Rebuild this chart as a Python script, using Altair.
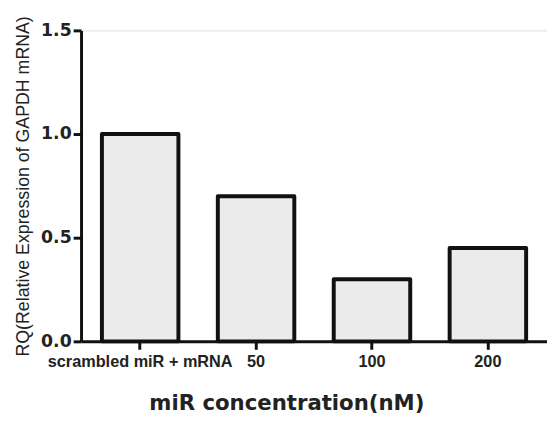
import altair as alt
import pandas as pd

categories = ["scrambled miR + mRNA", "50", "100", "200"]
values = [1.0, 0.7, 0.3, 0.45]

df = pd.DataFrame({"cat": categories, "rq": values})

ARIAL = "Liberation Sans"
WIDE = "DejaVu Sans"

chart = alt.Chart(df).mark_bar(
    fill="#ebebeb", stroke="#111111", strokeWidth=4, strokeJoin="round"
).encode(
    x=alt.X("cat:N", sort=categories,
            scale=alt.Scale(paddingInner=0.34, paddingOuter=0.18),
            axis=alt.Axis(title="miR concentration(nM)", labelAngle=0,
                          labelFont=ARIAL, labelFontSize=16.5, labelFontWeight="bold",
                          labelColor="#222222", labelPadding=4, labelLimit=400,
                          labelOverlap=False,
                          titleFont=WIDE, titleFontSize=21.5, titleFontWeight="bold",
                          titleColor="#222222", titleX=208, titleY=52,
                          titleAlign="center",
                          domainColor="#111111", domainWidth=3,
                          tickColor="#111111", tickWidth=3, tickSize=8)),
    y=alt.Y("rq:Q", scale=alt.Scale(domain=[0, 1.5], nice=False),
            axis=alt.Axis(title="RQ(Relative Expression of GAPDH mRNA)",
                          values=[0, 0.5, 1.0, 1.5], format=".1f",
                          grid=False,
                          labelFont=WIDE, labelFontSize=17.5, labelFontWeight="bold",
                          labelColor="#222222", labelPadding=2,
                          titleFont=ARIAL, titleFontSize=18, titleFontWeight="normal",
                          titleColor="#222222", titlePadding=8,
                          domainColor="#111111", domainWidth=3,
                          tickColor="#111111", tickWidth=3, tickSize=8)),
).properties(
    width=472, height=315,
    autosize=alt.AutoSizeParams(type="none"),
    padding={"left": 74, "top": 20, "right": 0, "bottom": 79},
).configure_view(stroke=None).configure(background="white")

chart.save("out.html", embed_options={"renderer": "svg", "actions": False})
